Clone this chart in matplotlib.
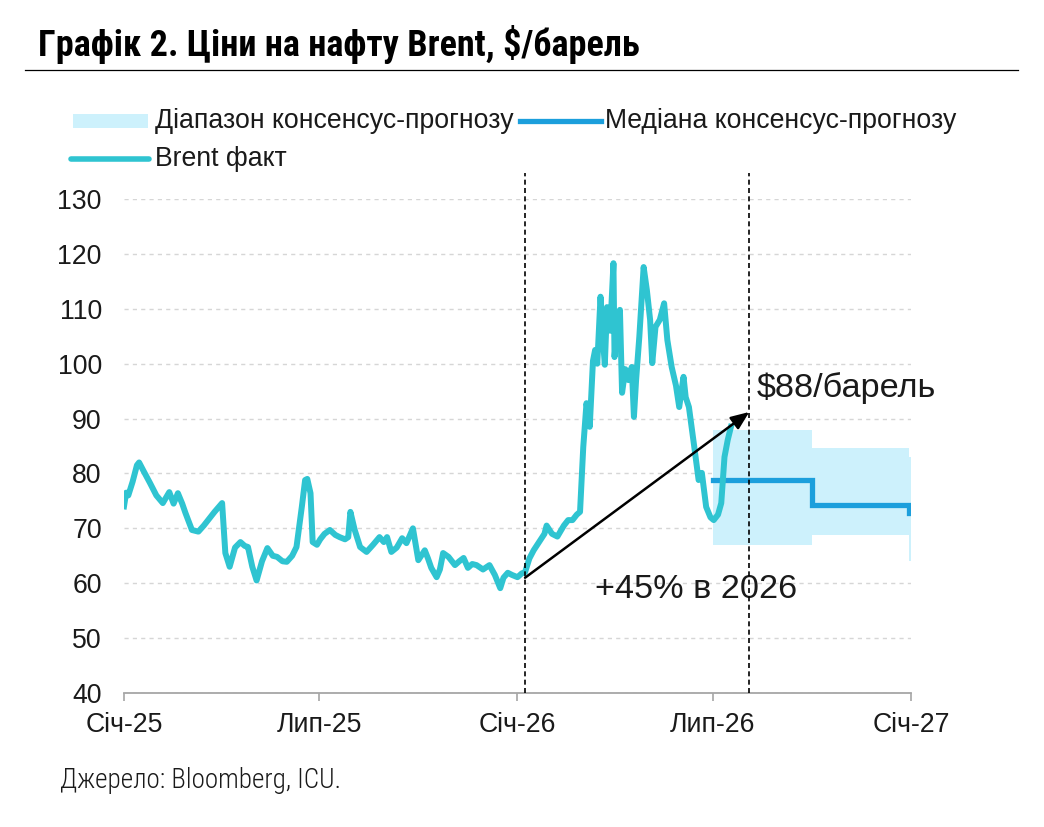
import matplotlib
matplotlib.use("Agg")
import matplotlib.pyplot as plt
import pandas as pd
from matplotlib import font_manager as fm
from matplotlib.lines import Line2D
from matplotlib.patches import Rectangle

# ---------------- data ----------------
brent_dates = [
    "2025-01-01", "2025-01-03", "2025-01-05", "2025-01-09", "2025-01-13", "2025-01-15", "2025-01-19",
    "2025-01-25", "2025-01-31", "2025-02-06", "2025-02-12", "2025-02-16", "2025-02-20",
    "2025-02-24", "2025-02-27", "2025-03-05", "2025-03-11", "2025-03-16", "2025-03-20",
    "2025-03-26", "2025-04-02", "2025-04-05", "2025-04-09", "2025-04-14", "2025-04-19",
    "2025-04-23", "2025-04-26", "2025-04-30", "2025-05-04", "2025-05-09", "2025-05-14",
    "2025-05-19", "2025-05-23", "2025-05-28", "2025-06-01", "2025-06-06", "2025-06-10",
    "2025-06-13", "2025-06-15", "2025-06-18", "2025-06-20", "2025-06-23", "2025-06-25",
    "2025-06-29", "2025-07-02", "2025-07-06", "2025-07-11", "2025-07-16", "2025-07-20",
    "2025-07-25", "2025-07-28", "2025-07-30", "2025-08-03", "2025-08-08", "2025-08-14",
    "2025-08-20", "2025-08-26", "2025-08-30", "2025-09-02", "2025-09-06", "2025-09-11",
    "2025-09-16", "2025-09-20", "2025-09-26", "2025-10-01", "2025-10-07", "2025-10-10",
    "2025-10-13", "2025-10-18", "2025-10-21", "2025-10-24", "2025-10-29", "2025-11-04",
    "2025-11-08", "2025-11-12", "2025-11-16", "2025-11-20", "2025-11-24", "2025-11-30",
    "2025-12-06", "2025-12-11", "2025-12-16", "2025-12-19", "2025-12-23", "2025-12-27",
    "2026-01-01", "2026-01-05", "2026-01-08", "2026-01-12", "2026-01-16", "2026-01-21",
    "2026-01-26", "2026-01-28", "2026-02-02", "2026-02-07", "2026-02-13", "2026-02-17",
    "2026-02-21", "2026-02-25", "2026-02-28", "2026-03-03", "2026-03-06", "2026-03-09",
    "2026-03-12", "2026-03-14", "2026-03-16", "2026-03-19", "2026-03-21", "2026-03-23",
    "2026-03-25", "2026-03-28", "2026-03-31", "2026-04-01", "2026-04-04", "2026-04-06",
    "2026-04-08", "2026-04-11", "2026-04-14", "2026-04-17", "2026-04-19", "2026-04-21",
    "2026-04-24", "2026-04-28", "2026-05-01", "2026-05-04", "2026-05-06", "2026-05-09",
    "2026-05-13", "2026-05-17", "2026-05-20", "2026-05-24", "2026-05-28", "2026-05-31",
    "2026-06-04", "2026-06-06", "2026-06-09", "2026-06-14", "2026-06-18", "2026-06-21",
    "2026-06-25", "2026-06-29", "2026-07-02", "2026-07-06", "2026-07-09", "2026-07-12",
    "2026-07-15", "2026-07-18",
]
brent_values = [
    74.0, 76.5, 76.0, 78.5, 81.5, 82.0, 80.5,
    78.3, 76.0, 74.6, 76.6, 74.5, 76.4,
    74.5, 72.8, 69.7, 69.4, 70.5, 71.5,
    73.0, 74.6, 65.5, 63.0, 66.5, 67.5,
    66.8, 66.6, 63.0, 60.5, 64.0, 66.4,
    65.0, 64.8, 64.0, 63.9, 65.0, 66.6,
    71.0, 74.0, 78.8, 79.0, 76.4, 67.5,
    67.0, 68.0, 69.0, 69.7, 68.8, 68.4,
    68.0, 68.4, 73.0, 69.7, 66.6, 65.7,
    67.0, 68.4, 67.5, 68.4, 65.7, 66.5,
    68.2, 67.3, 70.0, 64.2, 66.0, 64.5,
    62.8, 61.1, 62.5, 65.5, 64.8, 63.3,
    64.0, 64.6, 62.8, 63.5, 63.3, 62.5,
    63.3, 61.5, 59.1, 61.0, 61.9, 61.5,
    61.1, 61.8, 62.0, 64.5, 66.0, 67.5,
    69.0, 70.5, 69.0, 68.5, 70.5, 71.5,
    71.5, 72.5, 73.0, 84.8, 92.8, 88.5,
    100.5, 102.5, 100.0, 112.2, 105.0, 99.8,
    110.3, 106.0, 118.3, 101.2, 108.0, 109.8,
    94.7, 99.0, 97.0, 99.4, 90.3, 97.0,
    104.9, 117.6, 113.4, 108.0, 100.1, 106.7,
    108.0, 111.0, 104.3, 99.4, 96.0, 92.1,
    97.6, 93.9, 92.1, 84.8, 78.8, 80.1,
    73.9, 72.0, 71.5, 72.5, 74.6, 83.0,
    86.1, 88.5,
]

forecast_dates = ["2026-07-01", "2026-10-01", "2026-12-30", "2027-01-01"]
median_values = [78.8, 74.3, 72.8, 72.8]
range_high = [88.0, 84.6, 83.0, 83.0]
range_low = [67.0, 68.8, 64.0, 64.0]

arrow_start = ("2026-01-08", 61.0)
arrow_end = ("2026-08-04", 91.2)
vlines_dates = ["2026-01-08", "2026-08-04"]

xtick_dates = ["2025-01-01", "2025-07-01", "2026-01-01", "2026-07-01", "2027-01-01"]
xtick_labels = ["Січ-25", "Лип-25", "Січ-26", "Лип-26", "Січ-27"]
yticks = [40, 50, 60, 70, 80, 90, 100, 110, 120, 130]

title = "Графік 2. Ціни на нафту Brent, $/барель"
source = "Джерело: Bloomberg, ICU."
legend_labels = ["Діапазон консенсус-прогнозу", "Медіана консенсус-прогнозу", "Brent факт"]

# ---------------- fonts ----------------
names = {f.name for f in fm.fontManager.ttflist}
cond_font = next((n for n in ["Roboto Condensed", "Liberation Sans Narrow",
                              "DejaVu Sans Condensed", "Open Sans Condensed"]
                  if n in names), "Liberation Sans")
main_font = "Liberation Sans" if "Liberation Sans" in names else "DejaVu Sans"
plt.rcParams["font.family"] = [main_font, "DejaVu Sans"]

C_BRENT = "#2fc4d1"
C_MED = "#1c9fdc"
C_BAND = "#cdf1fc"
TXT = "#1a1a1a"
FS = 19.2

W, H = 1044, 827
fig = plt.figure(figsize=(W / 100, H / 100), dpi=100)

def px(x, y):
    return x / W, 1 - y / H

ax = fig.add_axes([124 / W, 1 - 693 / H, (911 - 124) / W, (693 - 199) / H])

bd = pd.to_datetime(brent_dates)
fd = pd.to_datetime(forecast_dates)

ax.fill_between(fd, range_low, range_high, step="post", color=C_BAND, lw=0, zorder=1)
ax.plot(fd, median_values, drawstyle="steps-post", color=C_MED, lw=3.8, zorder=3,
        solid_joinstyle="miter")
ax.plot(bd, brent_values, color=C_BRENT, lw=4.3, zorder=4, solid_joinstyle="round")

for d in vlines_dates:
    ax.axvline(pd.Timestamp(d), ymin=0, ymax=1 + 26 / 494, color="black", lw=1.2,
               ls=(0, (3, 2)), clip_on=False, zorder=5)

ax.annotate("", xy=(pd.Timestamp(arrow_end[0]), arrow_end[1]),
            xytext=(pd.Timestamp(arrow_start[0]), arrow_start[1]),
            arrowprops=dict(arrowstyle="-|>,head_length=1.1,head_width=0.45",
                            color="black", lw=1.8, shrinkA=0, shrinkB=0), zorder=6)

ax.text(pd.Timestamp("2026-08-11"), 95.6, "$88/барель", fontsize=24.7, color=TXT,
        ha="left", va="center")
ax.text(pd.Timestamp("2026-03-14"), 58.8, "+45% в 2026", fontsize=24.7, color=TXT,
        ha="left", va="center")

ax.set_xlim(pd.Timestamp("2025-01-01"), pd.Timestamp("2027-01-01"))
ax.set_ylim(40, 130)
ax.set_yticks(yticks)
ax.set_xticks(pd.to_datetime(xtick_dates))
ax.set_xticklabels(xtick_labels)
ax.yaxis.grid(True, color="#d6d6d6", lw=1.0, ls=(0, (3, 3)))
ax.set_axisbelow(True)
for s in ["top", "right", "left"]:
    ax.spines[s].set_visible(False)
ax.spines["bottom"].set_color("#a6a6a6")
ax.spines["bottom"].set_linewidth(1.3)
ax.tick_params(axis="y", length=0, pad=16, labelsize=FS, labelcolor=TXT)
ax.tick_params(axis="x", length=6, width=1.2, color="#a6a6a6", pad=8,
               labelsize=FS, labelcolor=TXT)

# title and rule
fig.text(*px(38, 45), title, fontsize=26, fontweight="bold", family=[cond_font, "DejaVu Sans"],
         ha="left", va="center", color="black")
fig.add_artist(Line2D([25 / W, 1018 / W], [1 - 70 / H] * 2, color="black", lw=0.9))

# legend (manual)
fig.add_artist(Rectangle((73 / W, 1 - 128 / H), (148 - 73) / W, 14 / H, color=C_BAND, lw=0))
fig.text(*px(155, 121), legend_labels[0], fontsize=FS, color=TXT, ha="left", va="center")
fig.add_artist(Line2D([520 / W, 601 / W], [1 - 121 / H] * 2, color=C_MED, lw=3.8))
fig.text(*px(605, 121), legend_labels[1], fontsize=FS, color=TXT, ha="left", va="center")
fig.add_artist(Line2D([71 / W, 149 / W], [1 - 159 / H] * 2, color=C_BRENT, lw=4.0,
                      solid_capstyle="round"))
fig.text(*px(155, 159), legend_labels[2], fontsize=FS, color=TXT, ha="left", va="center")

# source
fig.text(*px(60, 780), source, fontsize=19.5, fontweight="light",
         family=[cond_font, "DejaVu Sans"], ha="left", va="center", color=TXT)

fig.savefig("out.png", dpi=100)
